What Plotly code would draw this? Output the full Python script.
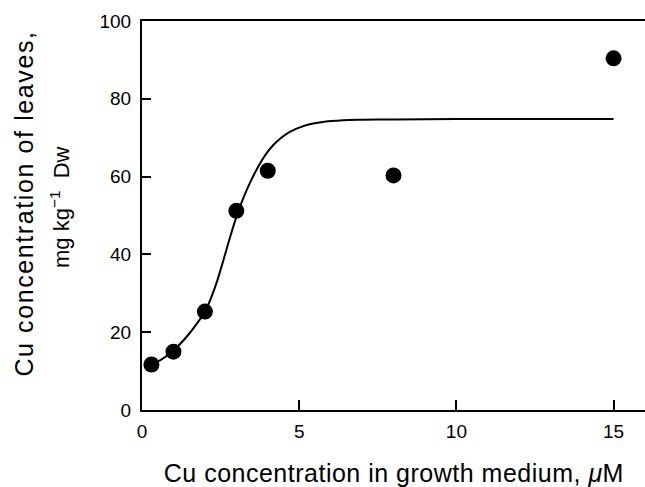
import plotly.graph_objects as go

# Measured data points
x_pts = [0.3, 1, 2, 3, 4, 8, 15]
y_pts = [11.7, 15.0, 25.3, 51.2, 61.5, 60.3, 90.4]

# Fitted curve
x_fit = [0.3, 0.6, 1.0, 1.5, 2.0, 2.2, 2.4, 2.6, 2.8, 3.0, 3.2, 3.4, 3.6, 3.8, 4.0, 4.2, 4.4, 4.6,
         4.8, 5.0, 5.3, 5.7, 6.4, 7.0, 8.0, 10.0, 12.5, 15.0]
y_fit = [11.8, 12.9, 15.3, 19.6, 25.2, 28.9, 33.4, 38.8, 44.4, 49.6, 54.0, 57.8, 61.1, 64.0, 66.4, 68.3,
         69.8, 71.0, 71.9, 72.6, 73.4, 74.0, 74.5, 74.6, 74.7, 74.8, 74.8, 74.8]

x_ticks = [0, 5, 10, 15]
y_ticks = [0, 20, 40, 60, 80, 100]

x_title = "Cu concentration in growth medium, <i>μ</i>M"
y_title_1 = "Cu concentration of leaves,"
y_title_2 = "mg kg<sup>−1</sup>  Dw"

FONT = "Liberation Sans, Arial, Helvetica, sans-serif"
W, H = 645, 487
L, R, T, B = 142, 0, 21, 77
PW, PH = W - L - R, H - T - B


def px_x(p):
    return (p - L) / PW


def px_y(p):
    return (H - B - p) / PH


fig = go.Figure()
fig.add_trace(go.Scatter(
    x=x_fit, y=y_fit, mode="lines",
    line=dict(color="black", width=2, shape="spline", smoothing=0.6),
    hoverinfo="skip", showlegend=False,
))
fig.add_trace(go.Scatter(
    x=x_pts, y=y_pts, mode="markers",
    marker=dict(color="black", size=16, line=dict(width=0)),
    showlegend=False,
))

fig.update_layout(
    width=W, height=H,
    margin=dict(l=L, r=R, t=T, b=B, pad=0),
    paper_bgcolor="white", plot_bgcolor="white",
    font=dict(family=FONT, color="black", size=19),
    xaxis=dict(
        range=[0, 16], tickvals=x_ticks, ticktext=[str(v) for v in x_ticks],
        ticks="inside", ticklen=10, tickwidth=1.5, tickcolor="black",
        showline=True, linecolor="black", linewidth=2, mirror=True,
        showgrid=False, zeroline=False, ticklabelstandoff=3,
        tickfont=dict(size=19, family=FONT),
    ),
    yaxis=dict(
        range=[0, 100], tickvals=y_ticks, ticktext=[str(v) for v in y_ticks],
        ticks="inside", ticklen=9, tickwidth=1.5, tickcolor="black",
        showline=True, linecolor="black", linewidth=2,
        showgrid=False, zeroline=False, ticklabelstandoff=5,
        tickfont=dict(size=19, family=FONT),
    ),
    annotations=[
        dict(text=x_title, xref="paper", yref="paper",
             x=px_x(393.5), y=px_y(473), xanchor="center", yanchor="middle",
             showarrow=False, font=dict(size=25, family=FONT)),
        dict(text=y_title_1, xref="paper", yref="paper", textangle=-90,
             x=px_x(24), y=px_y(204), xanchor="center", yanchor="middle",
             showarrow=False, font=dict(size=25, family=FONT)),
        dict(text=y_title_2, xref="paper", yref="paper", textangle=-90,
             x=px_x(60), y=px_y(207), xanchor="center", yanchor="middle",
             showarrow=False, font=dict(size=22, family=FONT)),
    ],
)

post = """
var gd = document.getElementById('{plot_id}');
function ls(){
  var a = gd.querySelectorAll('.annotation-text');
  if (a[0]) a[0].style.letterSpacing='0.5px';
  if (a[1]) a[1].style.letterSpacing='1.6px';
}
ls();
if (gd.on) gd.on('plotly_afterplot', ls);
"""

fig.write_html("out.html", post_script=post, config={"displayModeBar": False})
